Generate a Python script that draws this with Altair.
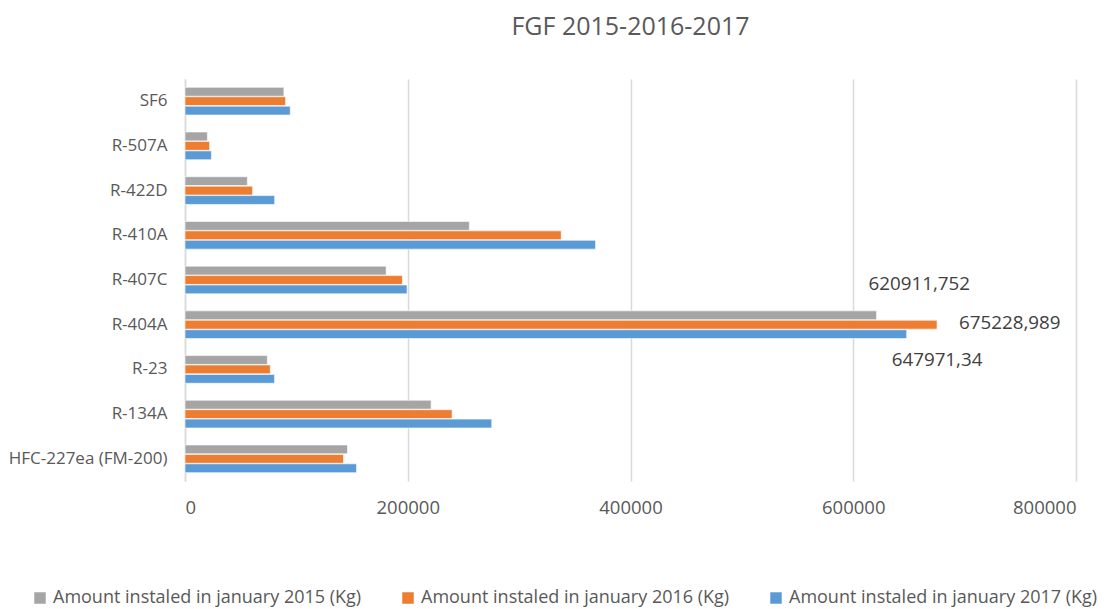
import altair as alt
import pandas as pd

categories = ["SF6", "R-507A", "R-422D", "R-410A", "R-407C", "R-404A", "R-23", "R-134A", "HFC-227ea (FM-200)"]
series = ["Amount instaled in january 2015 (Kg)",
          "Amount instaled in january 2016 (Kg)",
          "Amount instaled in january 2017 (Kg)"]
v2015 = [88800, 20100, 56000, 255300, 180600, 620911.752, 73900, 221000, 145900]
v2016 = [90300, 22100, 60700, 337800, 195200, 675228.989, 76600, 239800, 142300]
v2017 = [94500, 23700, 80500, 368600, 199400, 647971.34, 80400, 275400, 154000]
colors = ["#A5A5A5", "#ED7D31", "#5B9BD5"]
label_cat = "R-404A"
label_texts = ["620911,752", "675228,989", "647971,34"]

rows = []
for s, vals in zip(series, [v2015, v2016, v2017]):
    for c, v in zip(categories, vals):
        rows.append({"cat": c, "series": s, "value": v})
df = pd.DataFrame(rows)

lab = pd.DataFrame({
    "cat": [label_cat] * 3,
    "series": series,
    "value": [v2015[5], v2016[5], v2017[5]],
    "text": label_texts,
})

FONT = "Open Sans"
GREY = "#595959"

y_enc = alt.Y("cat:N", sort=categories, title=None,
              scale=alt.Scale(paddingInner=0.38, paddingOuter=0.186),
              axis=alt.Axis(labelFontSize=17, labelColor=GREY, labelFont=FONT,
                            ticks=False, domain=True, domainColor="#d9d9d9", domainWidth=1.5,
                            labelPadding=18, labelLimit=300))
yoff = alt.YOffset("series:N", sort=series, scale=alt.Scale(paddingInner=0.06))
x_enc = alt.X("value:Q", title=None,
              scale=alt.Scale(domain=[0, 800000], nice=False),
              axis=alt.Axis(values=[0, 200000, 400000, 600000, 800000], format="d",
                            labelFontSize=18.5, labelColor=GREY, labelFont=FONT,
                            ticks=False, domain=False, grid=True,
                            gridColor="#d9d9d9", gridWidth=1.5, labelPadding=17))

bars = alt.Chart(df).mark_bar(stroke="white", strokeWidth=0.6).encode(
    y=y_enc, yOffset=yoff, x=x_enc,
    color=alt.Color("series:N", sort=series,
                    scale=alt.Scale(domain=series, range=colors),
                    legend=alt.Legend(title=None, orient="none", direction="horizontal",
                                      legendX=-154, legendY=510,
                                      symbolType="square", symbolSize=132,
                                      symbolStrokeWidth=0,
                                      labelFontSize=18, labelColor=GREY, labelFont=FONT,
                                      labelLimit=500, columnPadding=37, labelOffset=4)),
)

offsets = [(-8, -31), (22, -2), (-15, 26)]
texts = []
for s, (dx, dy) in zip(series, offsets):
    texts.append(
        alt.Chart(lab[lab["series"] == s]).mark_text(
            align="left", baseline="middle", dx=dx, dy=dy,
            fontSize=18.8, color="#404040", font=FONT
        ).encode(y=alt.Y("cat:N", sort=categories), yOffset=alt.YOffset("series:N", sort=series),
                 x="value:Q", text="text:N")
    )

chart = alt.layer(bars, *texts).properties(
    width=891, height=402,
    title=alt.TitleParams("FGF 2015-2016-2017", fontSize=25, color=GREY, font=FONT,
                          fontWeight="normal", anchor="middle", offset=39),
    autosize=alt.AutoSizeParams(type="none"),
    padding={"left": 177, "top": 71, "right": 29, "bottom": 128},
).configure(background="white").configure_view(strokeWidth=0, stroke="transparent")

chart.save("out.html", embed_options={"renderer": "svg", "actions": False})
